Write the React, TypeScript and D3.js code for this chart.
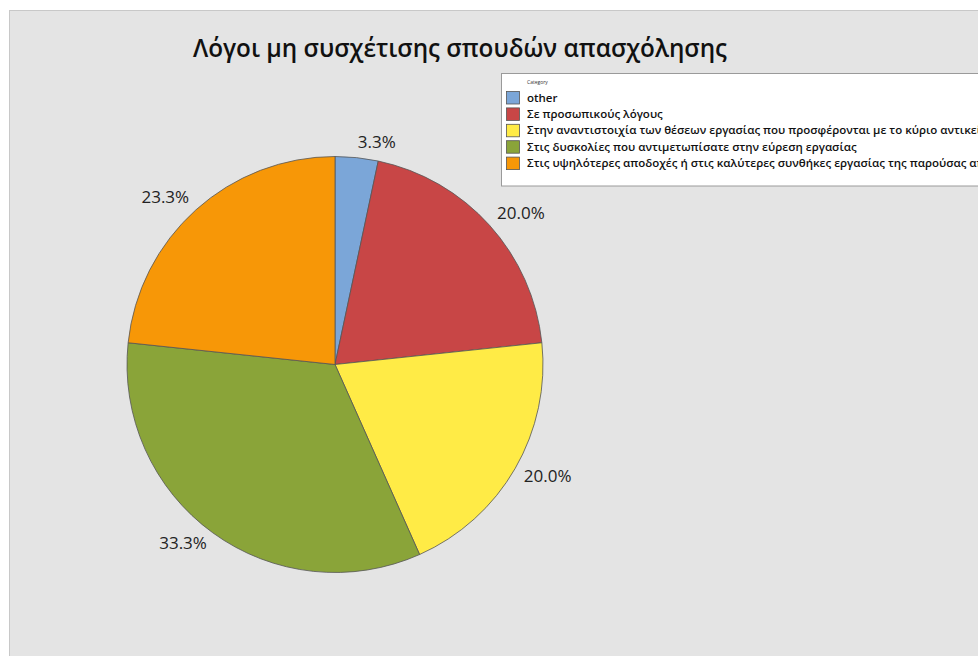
import React from "react";
import * as d3 from "d3";

const categories = [
  "other",
  "Σε προσωπικούς λόγους",
  "Στην αναντιστοιχία των θέσεων εργασίας που προσφέρονται με το κύριο αντικείμενο των σπουδών σας",
  "Στις δυσκολίες που αντιμετωπίσατε στην εύρεση εργασίας",
  "Στις υψηλότερες αποδοχές ή στις καλύτερες συνθήκες εργασίας της παρούσας απασχόλησης",
];
const counts = [1, 6, 6, 10, 7];
const colors = ["#7ba6d8", "#c84646", "#ffeb46", "#8aa439", "#f79707"];
const title = "Λόγοι μη συσχέτισης σπουδών απασχόλησης";

const W = 978;
const H = 656;
const cx = 335;
const cy = 364.5;
const R = 208;

export default function App() {
  const total = d3.sum(counts);
  const pie = d3.pie<number>().sort(null).value((d) => d);
  const arcs = pie(counts);
  const arc = d3.arc<d3.PieArcDatum<number>>().innerRadius(0).outerRadius(R);
  const fmt = (v: number) => ((v / total) * 100).toFixed(1) + "%";
  const font = "'Open Sans', 'Noto Sans', sans-serif";

  return (
    <svg
      width={W}
      height={H}
      style={{ position: "absolute", left: 0, top: 0, display: "block" }}
      fontFamily={font}
    >
      <rect x={0} y={0} width={W} height={H} fill="#ffffff" />
      <rect x={9.5} y={10.5} width={W} height={H} fill="#e4e4e4" stroke="#c8c8c8" strokeWidth={1} />
      <text x={460} y={57} textAnchor="middle" fontSize={24.3} fontWeight={600} fill="#111">
        {title}
      </text>
      <g transform={`translate(${cx},${cy})`}>
        {arcs.map((a, i) => (
          <path key={i} d={arc(a) || ""} fill={colors[i]} stroke="#555" strokeWidth={0.8} />
        ))}
        {arcs.map((a, i) => {
          const mid = (a.startAngle + a.endAngle) / 2;
          const lr = 218;
          const px = lr * Math.sin(mid);
          const py = -lr * Math.cos(mid);
          const right = Math.sin(mid) >= 0;
          const dy = Math.cos(mid) > 0 ? -6 : 2;
          return (
            <text
              key={"l" + i}
              x={px}
              y={py + dy}
              textAnchor={right ? "start" : "end"}
              dominantBaseline="central"
              fontSize={17}
              fill="#222"
            >
              {fmt(counts[i])}
            </text>
          );
        })}
      </g>
      <g>
        <rect x={501.5} y={73.5} width={600} height={112.5} fill="#ffffff" stroke="#9a9a9a" strokeWidth={1} />
        <text x={527} y={84} fontSize={5} fill="#333">
          Category
        </text>
        {categories.map((c, i) => (
          <g key={c} transform={`translate(0,${91 + i * 16.4})`}>
            <rect x={506.5} y={0.5} width={13} height={12.5} fill={colors[i]} stroke="#555" strokeWidth={0.8} />
            <text x={527} y={10.5} fontSize={11.5} fontWeight={600} fill="#111">
              {c}
            </text>
          </g>
        ))}
      </g>
    </svg>
  );
}
